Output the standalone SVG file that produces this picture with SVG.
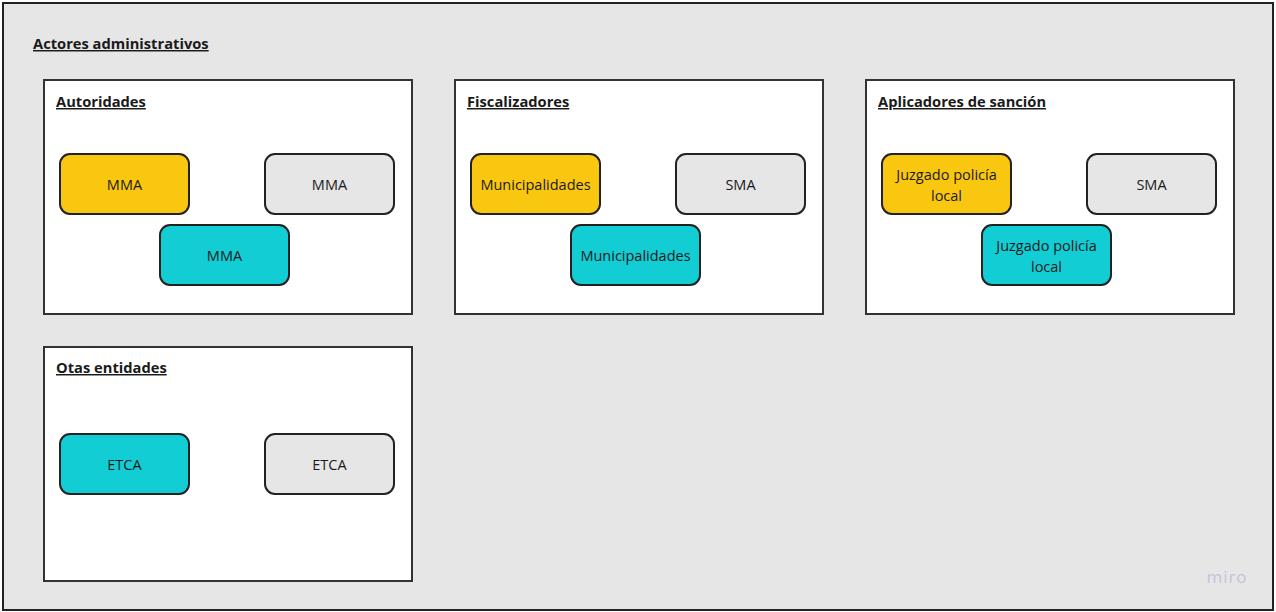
<svg xmlns="http://www.w3.org/2000/svg" width="1276" height="612" viewBox="0 0 1276 612">
<style>
.frame{fill:#e6e6e6;stroke:#222;stroke-width:2}
.panel{fill:#fff;stroke:#333;stroke-width:2}
.node{stroke:#222;stroke-width:2}
.y{fill:#fac710}.c{fill:#12cdd4}.g{fill:#e6e6e6}
.t{font-family:"Open Sans","Noto Sans",sans-serif;font-size:14.5px;fill:#1a1a1a;text-anchor:middle}
.h{font-family:"Open Sans","Noto Sans",sans-serif;font-size:14.7px;font-weight:bold;fill:#1a1a1a;text-decoration:underline}
</style>
<rect class="frame" x="3" y="3" width="1270" height="607"/>
<text class="h" x="33" y="49">Actores administrativos</text>
<g id="autoridades">
<rect class="panel" x="44" y="80" width="368" height="234"/>
<text class="h" x="56" y="107">Autoridades</text>
</g>
<g id="a1"><rect class="node y" x="60" y="154" width="129" height="60" rx="10"/><text class="t" x="124.5" y="190">MMA</text></g>
<g id="a2"><rect class="node g" x="265" y="154" width="129" height="60" rx="10"/><text class="t" x="329.5" y="190">MMA</text></g>
<g id="a3"><rect class="node c" x="160" y="225" width="129" height="60" rx="10"/><text class="t" x="224.5" y="261">MMA</text></g>
<g id="fiscalizadores">
<rect class="panel" x="455" y="80" width="368" height="234"/>
<text class="h" x="467" y="107">Fiscalizadores</text>
</g>
<g id="f1"><rect class="node y" x="471" y="154" width="129" height="60" rx="10"/><text class="t" x="535.5" y="190">Municipalidades</text></g>
<g id="f2"><rect class="node g" x="676" y="154" width="129" height="60" rx="10"/><text class="t" x="740.5" y="190">SMA</text></g>
<g id="f3"><rect class="node c" x="571" y="225" width="129" height="60" rx="10"/><text class="t" x="635.5" y="261">Municipalidades</text></g>
<g id="aplicadores">
<rect class="panel" x="866" y="80" width="368" height="234"/>
<text class="h" x="878" y="107">Aplicadores de sanción</text>
</g>
<g id="s1"><rect class="node y" x="882" y="154" width="129" height="60" rx="10"/><text class="t" x="946.5" y="180">Juzgado policía</text><text class="t" x="946.5" y="201">local</text></g>
<g id="s2"><rect class="node g" x="1087" y="154" width="129" height="60" rx="10"/><text class="t" x="1151.5" y="190">SMA</text></g>
<g id="s3"><rect class="node c" x="982" y="225" width="129" height="60" rx="10"/><text class="t" x="1046.5" y="251">Juzgado policía</text><text class="t" x="1046.5" y="272">local</text></g>
<g id="otras">
<rect class="panel" x="44" y="347" width="368" height="234"/>
<text class="h" x="56" y="373">Otas entidades</text>
</g>
<g id="o1"><rect class="node c" x="60" y="434" width="129" height="60" rx="10"/><text class="t" x="124.5" y="470">ETCA</text></g>
<g id="o2"><rect class="node g" x="265" y="434" width="129" height="60" rx="10"/><text class="t" x="329.5" y="470">ETCA</text></g>
<g id="connectors"></g>
<text x="1227" y="583" font-family="'Open Sans',sans-serif" font-size="17" fill="#c4c4d8" text-anchor="middle" letter-spacing="1">miro</text>
</svg>
